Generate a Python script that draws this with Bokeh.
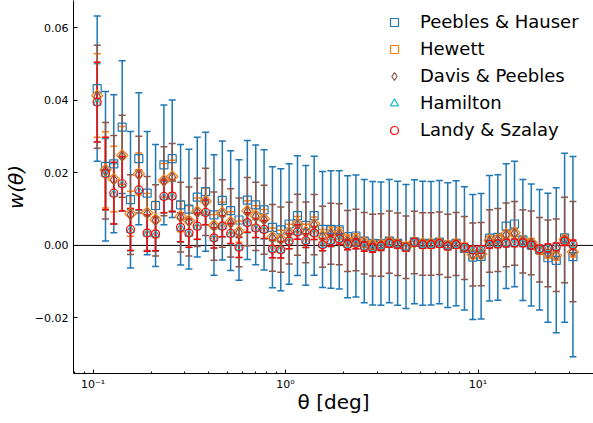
from bokeh.plotting import figure
from bokeh.models import ColumnDataSource, Whisker, TeeHead, Span, Range1d, FixedTicker
from bokeh.embed import file_html
from bokeh.resources import INLINE

# angular separation bin centres [deg]
theta = [0.1050, 0.1160, 0.1281, 0.1416, 0.1564, 0.1728, 0.1910, 0.2111, 0.2333, 0.2577,
         0.2848, 0.3147, 0.3477, 0.3842, 0.4246, 0.4692, 0.5185, 0.5729, 0.6331, 0.6998,
         0.7733, 0.8546, 0.9443, 1.0435, 1.1531, 1.2742, 1.4080, 1.5560, 1.7195, 1.9000,
         2.0996, 2.3203, 2.5635, 2.8331, 3.1305, 3.4594, 3.8222, 4.2238, 4.6678, 5.1582,
         5.6997, 6.2987, 6.9599, 7.6913, 8.4995, 9.3908, 10.375, 11.466, 12.670, 14.000,
         15.471, 17.097, 18.893, 20.870, 23.067, 25.490, 28.169, 31.125]

# Peebles & Hauser
w_ph = [0.0432, 0.0218, 0.0225, 0.0326, 0.0126, 0.0239, 0.0144, 0.0110, 0.0222, 0.0239,
        0.0112, 0.0100, 0.0133, 0.0148, 0.0084, 0.0124, 0.0096, 0.0070, 0.0125, 0.0112,
        0.0098, 0.0050, 0.0043, 0.0059, 0.0082, 0.0055, 0.0082, 0.0044, 0.0044, 0.0043,
        0.0024, 0.0026, 0.0012, 0.0006, 0.0005, 0.0012, 0.0006, -0.0003, 0.0010, 0.0006,
        0.0006, 0.0009, 0.0001, 0.0006, -0.0008, -0.0032, -0.0030, 0.0020, 0.0022, 0.0053,
        0.0059, 0.0015, 0.0001, -0.0012, -0.0034, -0.0041, 0.0021, -0.0031]
e_ph = [0.0200, 0.0206, 0.0190, 0.0183, 0.0188, 0.0182, 0.0170, 0.0168, 0.0165, 0.0162,
        0.0166, 0.0165, 0.0165, 0.0164, 0.0166, 0.0164, 0.0165, 0.0166, 0.0164, 0.0165,
        0.0166, 0.0167, 0.0168, 0.0166, 0.0165, 0.0165, 0.0164, 0.0160, 0.0162, 0.0163,
        0.0168, 0.0168, 0.0170, 0.0170, 0.0170, 0.0170, 0.0171, 0.0171, 0.0171, 0.0171,
        0.0170, 0.0170, 0.0172, 0.0172, 0.0170, 0.0172, 0.0173, 0.0173, 0.0173, 0.0172,
        0.0173, 0.0167, 0.0168, 0.0166, 0.0178, 0.0200, 0.0233, 0.0276]

# Hewett
w_hw = [0.0413, 0.0208, 0.0183, 0.0248, 0.0087, 0.0197, 0.0090, 0.0071, 0.0179, 0.0190,
        0.0080, 0.0068, 0.0093, 0.0122, 0.0055, 0.0090, 0.0064, 0.0038, 0.0095, 0.0082,
        0.0073, 0.0023, 0.0018, 0.0036, 0.0059, 0.0038, 0.0059, 0.0026, 0.0034, 0.0033,
        0.0014, 0.0017, 0.0008, 0.0002, 0.0002, 0.0010, 0.0004, -0.0004, 0.0009, 0.0005,
        0.0005, 0.0007, 0.0000, 0.0005, -0.0006, -0.0025, -0.0024, 0.0014, 0.0017, 0.0031,
        0.0035, 0.0012, 0.0008, -0.0012, -0.0023, -0.0028, 0.0016, -0.0018]
e_hw = [0.0115, 0.0105, 0.0090, 0.0080, 0.0062, 0.0058, 0.0053, 0.0050, 0.0047, 0.0045,
        0.0042, 0.0041, 0.0038, 0.0036, 0.0030, 0.0030, 0.0029, 0.0029, 0.0028, 0.0027,
        0.0026, 0.0025, 0.0024, 0.0022, 0.0021, 0.0020, 0.0019, 0.0018, 0.0017, 0.0016,
        0.0015, 0.0015, 0.0014, 0.0013, 0.0013, 0.0012, 0.0012, 0.0012, 0.0011, 0.0011,
        0.0011, 0.0011, 0.0011, 0.0011, 0.0011, 0.0011, 0.0011, 0.0011, 0.0011, 0.0011,
        0.0011, 0.0011, 0.0011, 0.0012, 0.0012, 0.0012, 0.0013, 0.0014]

# Davis & Peebles
w_dp = [0.0410, 0.0206, 0.0181, 0.0246, 0.0085, 0.0195, 0.0088, 0.0069, 0.0177, 0.0188,
        0.0078, 0.0066, 0.0091, 0.0120, 0.0053, 0.0088, 0.0062, 0.0036, 0.0093, 0.0080,
        0.0071, 0.0021, 0.0016, 0.0034, 0.0057, 0.0036, 0.0057, 0.0024, 0.0032, 0.0031,
        0.0012, 0.0015, 0.0006, 0.0001, 0.0001, 0.0009, 0.0003, -0.0005, 0.0008, 0.0004,
        0.0004, 0.0006, -0.0001, 0.0004, -0.0007, -0.0025, -0.0024, 0.0012, 0.0015, 0.0029,
        0.0033, 0.0011, 0.0007, -0.0012, -0.0022, -0.0027, 0.0015, -0.0017]
e_dp = [0.0142, 0.0133, 0.0122, 0.0113, 0.0110, 0.0106, 0.0102, 0.0098, 0.0095, 0.0093,
        0.0096, 0.0095, 0.0094, 0.0093, 0.0094, 0.0093, 0.0094, 0.0095, 0.0094, 0.0094,
        0.0095, 0.0092, 0.0090, 0.0085, 0.0084, 0.0084, 0.0083, 0.0084, 0.0084, 0.0084,
        0.0084, 0.0085, 0.0085, 0.0085, 0.0086, 0.0086, 0.0086, 0.0086, 0.0086, 0.0086,
        0.0086, 0.0086, 0.0087, 0.0087, 0.0087, 0.0087, 0.0087, 0.0086, 0.0087, 0.0088,
        0.0088, 0.0087, 0.0088, 0.0089, 0.0092, 0.0100, 0.0118, 0.0138]

# Hamilton
w_hm = [0.0393, 0.0196, 0.0142, 0.0168, 0.0042, 0.0151, 0.0032, 0.0030, 0.0133, 0.0134,
        0.0048, 0.0032, 0.0051, 0.0089, 0.0019, 0.0051, 0.0031, -0.0006, 0.0061, 0.0046,
        0.0042, -0.0011, -0.0013, 0.0011, 0.0036, 0.0012, 0.0033, 0.0001, 0.0012, 0.0017,
        0.0001, 0.0004, -0.0004, -0.0008, -0.0003, 0.0005, 0.0002, -0.0006, 0.0008, 0.0001,
        0.0001, 0.0004, -0.0003, 0.0001, -0.0006, -0.0013, -0.0012, 0.0002, 0.0003, 0.0005,
        0.0006, 0.0006, 0.0000, -0.0011, -0.0008, -0.0005, 0.0011, 0.0001]
e_hm = [0.0108, 0.0098, 0.0083, 0.0073, 0.0057, 0.0054, 0.0049, 0.0046, 0.0044, 0.0042,
        0.0039, 0.0038, 0.0035, 0.0033, 0.0027, 0.0028, 0.0027, 0.0027, 0.0026, 0.0025,
        0.0024, 0.0023, 0.0022, 0.0020, 0.0019, 0.0018, 0.0017, 0.0016, 0.0015, 0.0014,
        0.0013, 0.0013, 0.0012, 0.0011, 0.0011, 0.0010, 0.0010, 0.0010, 0.0009, 0.0009,
        0.0009, 0.0009, 0.0009, 0.0009, 0.0009, 0.0009, 0.0009, 0.0009, 0.0009, 0.0009,
        0.0009, 0.0009, 0.0009, 0.0010, 0.0010, 0.0010, 0.0011, 0.0012]

# Landy & Szalay
w_ls = [0.0395, 0.0198, 0.0144, 0.0170, 0.0044, 0.0153, 0.0034, 0.0032, 0.0135, 0.0136,
        0.0050, 0.0034, 0.0053, 0.0091, 0.0021, 0.0053, 0.0033, -0.0005, 0.0063, 0.0048,
        0.0044, -0.0010, -0.0012, 0.0012, 0.0037, 0.0013, 0.0034, 0.0002, 0.0013, 0.0018,
        0.0002, 0.0005, -0.0003, -0.0007, -0.0002, 0.0006, 0.0003, -0.0005, 0.0009, 0.0002,
        0.0002, 0.0005, -0.0002, 0.0002, -0.0005, -0.0012, -0.0011, 0.0003, 0.0004, 0.0006,
        0.0007, 0.0007, 0.0001, -0.0010, -0.0007, -0.0004, 0.0012, 0.0002]
e_ls = [0.0110, 0.0100, 0.0085, 0.0075, 0.0058, 0.0055, 0.0050, 0.0047, 0.0045, 0.0043,
        0.0040, 0.0039, 0.0036, 0.0034, 0.0028, 0.0029, 0.0028, 0.0028, 0.0027, 0.0026,
        0.0025, 0.0024, 0.0023, 0.0021, 0.0020, 0.0019, 0.0018, 0.0017, 0.0016, 0.0015,
        0.0014, 0.0014, 0.0013, 0.0012, 0.0012, 0.0011, 0.0011, 0.0011, 0.0010, 0.0010,
        0.0010, 0.0010, 0.0010, 0.0010, 0.0010, 0.0010, 0.0010, 0.0010, 0.0010, 0.0010,
        0.0010, 0.0010, 0.0010, 0.0011, 0.0011, 0.0011, 0.0012, 0.0013]

series_names = ["Peebles & Hauser", "Hewett", "Davis & Peebles", "Hamilton", "Landy & Szalay"]
x_ticks = [0.1, 1, 10]
x_tick_labels = ["10⁻¹", "10⁰", "10¹"]
x_minor = [0.08, 0.09, 0.2, 0.3, 0.4, 0.5, 0.6, 0.7, 0.8, 0.9,
           2, 3, 4, 5, 6, 7, 8, 9, 20, 30]
y_ticks = [-0.02, 0.0, 0.02, 0.04, 0.06]
y_tick_labels = ["−0.02", "0.00", "0.02", "0.04", "0.06"]

FONT = "DejaVu Sans"

p = figure(width=593, height=423, x_axis_type="log",
           x_range=Range1d(0.0791, 39.8), y_range=Range1d(-0.0353, 0.0675),
           output_backend="svg", toolbar_location=None,
           min_border_left=68, min_border_right=0, min_border_top=0, min_border_bottom=50)
p.styles = {"position": "absolute", "left": "0px", "top": "0px"}
p.outline_line_color = None
p.xgrid.visible = False
p.ygrid.visible = False
p.background_fill_color = "white"
p.border_fill_color = "white"

p.add_layout(Span(location=0, dimension="width", line_color="black", line_width=1, level="underlay"))

styles = [
    dict(w=w_ph, e=e_ph, color="#1f77b4", marker="square", size=8, angle=0.0),
    dict(w=w_hw, e=e_hw, color="#ff7f0e", marker="square", size=8, angle=0.7854),
    dict(w=w_dp, e=e_dp, color="#8c564b", marker="diamond", size=10, angle=0.0),
    dict(w=w_hm, e=e_hm, color="#17becf", marker="triangle", size=8, angle=0.0),
    dict(w=w_ls, e=e_ls, color="#ff0000", marker="circle", size=8, angle=0.0),
]

for name, st in zip(series_names, styles):
    lower = [v - e for v, e in zip(st["w"], st["e"])]
    upper = [v + e for v, e in zip(st["w"], st["e"])]
    src = ColumnDataSource(dict(x=theta, y=st["w"], lower=lower, upper=upper))
    wk = Whisker(source=src, base="x", lower="lower", upper="upper", dimension="height",
                 line_color=st["color"], line_width=1.5,
                 upper_head=TeeHead(size=7, line_color=st["color"], line_width=1.5),
                 lower_head=TeeHead(size=7, line_color=st["color"], line_width=1.5))
    p.add_layout(wk)

for name, st in zip(series_names, styles):
    src = ColumnDataSource(dict(x=theta, y=st["w"]))
    p.scatter("x", "y", source=src, marker=st["marker"], size=st["size"], angle=st["angle"],
              fill_color=None, line_color=st["color"], line_width=1.2, legend_label=name)

# axes
p.xaxis.ticker = FixedTicker(ticks=x_ticks, minor_ticks=x_minor)
p.xaxis.major_label_overrides = dict(zip(x_ticks, x_tick_labels))
p.yaxis.ticker = FixedTicker(ticks=y_ticks, minor_ticks=[])
p.yaxis.major_label_overrides = dict(zip(y_ticks, y_tick_labels))
for ax in (p.xaxis, p.yaxis):
    ax.axis_line_color = "black"
    ax.axis_line_width = 1
    ax.major_tick_in = 4
    ax.major_tick_out = 0
    ax.minor_tick_in = 2
    ax.minor_tick_out = 0
    ax.major_tick_line_color = "black"
    ax.minor_tick_line_color = "black"
    ax.major_label_text_font = FONT
    ax.major_label_text_font_size = "11px"
    ax.major_label_text_color = "black"
    ax.axis_label_text_font = FONT
    ax.axis_label_text_font_size = "20px"
    ax.axis_label_text_color = "black"
p.yaxis.minor_tick_line_color = None
p.xaxis.major_label_standoff = 4
p.yaxis.major_label_standoff = 5
p.xaxis.axis_label = "θ [deg]"
p.xaxis.axis_label_text_font_style = "normal"
p.xaxis.axis_label_standoff = -4
p.yaxis.axis_label = "w(θ)"
p.yaxis.axis_label_text_font_style = "italic"
p.yaxis.axis_label_standoff = 4

lg = p.legend[0]
lg.location = (311, 233)
lg.border_line_color = None
lg.background_fill_alpha = 0
lg.label_text_font = FONT
lg.label_text_font_size = "18px"
lg.label_text_color = "black"
lg.glyph_width = 20
lg.glyph_height = 20
lg.label_height = 20
lg.label_standoff = 16
lg.spacing = 6
lg.padding = 10
lg.margin = 0

open("out.html", "w").write(file_html(p, INLINE))
